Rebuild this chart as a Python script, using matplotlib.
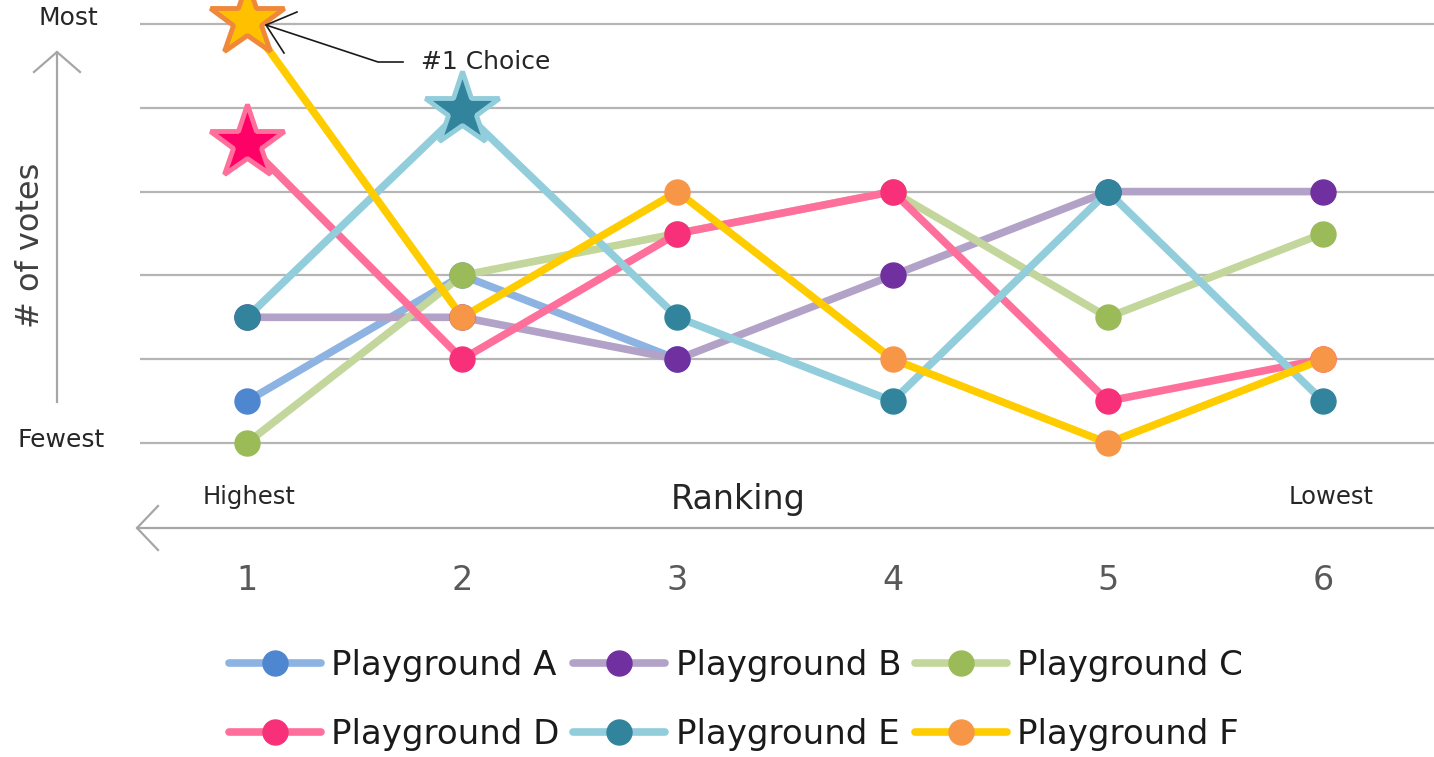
import matplotlib
matplotlib.use("Agg")
import matplotlib.pyplot as plt
import numpy as np

# ranking positions (1 = highest) and votes per playground
rankings = [1, 2, 3, 4, 5, 6]
names = ["Playground A", "Playground B", "Playground C",
         "Playground D", "Playground E", "Playground F"]
votes_a = [0.5, 2.0, 1.0, np.nan, np.nan, np.nan]
votes_b = [1.5, 1.5, 1.0, 2.0, 3.0, 3.0]
votes_c = [0.0, 2.0, 2.5, 3.0, 1.5, 2.5]
votes_d = [3.58, 1.0, 2.5, 3.0, 0.5, 1.0]
votes_e = [1.5, 3.97, 1.5, 0.5, 3.0, 0.5]
votes_f = [5.05, 1.5, 3.0, 1.0, 0.0, 1.0]
starred = ["Playground D", "Playground E", "Playground F"]
grid_levels = [0, 1, 2, 3, 4, 5]

line_colors = ["#8db3e2", "#b3a2c7", "#c3d69b", "#ff6f9c", "#92cddc", "#ffcc00"]
dot_colors = ["#4f86d0", "#7030a0", "#9bbb59", "#f8307a", "#31849b", "#f79646"]
star_fill = {"Playground D": "#ff0066", "Playground E": "#31849b", "Playground F": "#ffc000"}
star_edge = {"Playground D": "#ff6f9c", "Playground E": "#92cddc", "Playground F": "#f0883a"}

series = [votes_a, votes_b, votes_c, votes_d, votes_e, votes_f]

W, H = 1434, 757
# pixel -> data helpers for the layout (x=1 at 247px, step 215.2px; y=0 at 443px, step 83.8px)
def px(x):
    return 1 + (x - 247) / 215.2

def py(y):
    return (443 - y) / 83.8

plt.rcParams["font.family"] = ["DejaVu Sans"]
fig = plt.figure(figsize=(W / 100, H / 100), dpi=100)
ax = fig.add_axes([0, 0, 1, 1])
ax.set_xlim(px(0), px(W))
ax.set_ylim(py(H), py(0))
ax.axis("off")

ax.hlines(grid_levels, px(140), px(W), color="#b5b5b5", lw=1.6, zorder=1)

handles = []
for name, vals, lc, dc in zip(names, series, line_colors, dot_colors):
    vals = np.array(vals, dtype=float)
    star_i = int(np.nanargmax(vals)) if name in starred else None
    keep = [i for i in range(len(vals)) if i != star_i and not np.isnan(vals[i])]
    h, = ax.plot(rankings, vals, color=lc, lw=5.5, marker="o", markersize=18,
                 markerfacecolor=dc, markeredgecolor=dc, markevery=keep,
                 label=name, zorder=3, solid_capstyle="round")
    handles.append(h)
    if star_i is not None:
        ax.plot(rankings[star_i], vals[star_i], marker="*", markersize=56,
                markerfacecolor=star_fill[name], markeredgecolor=star_edge[name],
                markeredgewidth=3.5, zorder=4, clip_on=False)

# axis arrows
arrow_c = "#a6a6a6"
ax.plot([px(57), px(57)], [py(402), py(52)], color=arrow_c, lw=1.6, clip_on=False)
ax.plot([px(34), px(57), px(80)], [py(72), py(52), py(72)], color=arrow_c, lw=1.6)
ax.plot([px(137), px(W)], [py(528), py(528)], color=arrow_c, lw=1.6)
ax.plot([px(158), px(137), px(158)], [py(506), py(528), py(550)], color=arrow_c, lw=1.6)

# "#1 Choice" callout
ax.plot([px(403), px(378), px(266)], [py(62), py(62), py(25)], color="#1a1a1a", lw=1.2, zorder=5)
ax.plot([px(297), px(266), px(284)], [py(12), py(25), py(53)], color="#1a1a1a", lw=1.2, zorder=5)
ax.text(px(421), py(62), "#1 Choice", fontsize=18, color="#262626", ha="left", va="center")

txt = "#262626"
ax.text(px(68), py(18), "Most", fontsize=18, color=txt, ha="center", va="center")
ax.text(px(61), py(440), "Fewest", fontsize=18, color=txt, ha="center", va="center")
ax.text(px(30), py(245), "# of votes", fontsize=23, color="#404040", ha="center",
        va="center", rotation=90)
ax.text(px(249), py(497), "Highest", fontsize=17.5, color=txt, ha="center", va="center")
ax.text(px(1331), py(497), "Lowest", fontsize=17.5, color=txt, ha="center", va="center")
ax.text(px(738), py(500), "Ranking", fontsize=24, color=txt, ha="center", va="center")

for r in rankings:
    ax.text(r, py(580), str(r), fontsize=24, color="#595959", ha="center", va="center")

# legend reads row-wise: A B C / D E F
order = [0, 3, 1, 4, 2, 5]
fig.legend([handles[i] for i in order], [names[i] for i in order],
           loc="center", bbox_to_anchor=(736 / W, 1 - 700 / H), ncol=3, frameon=False,
           fontsize=24.5, handlelength=2.7, handletextpad=0.3, columnspacing=0.4,
           labelspacing=1.05, labelcolor="#1a1a1a")

fig.savefig("out.png", dpi=100)
